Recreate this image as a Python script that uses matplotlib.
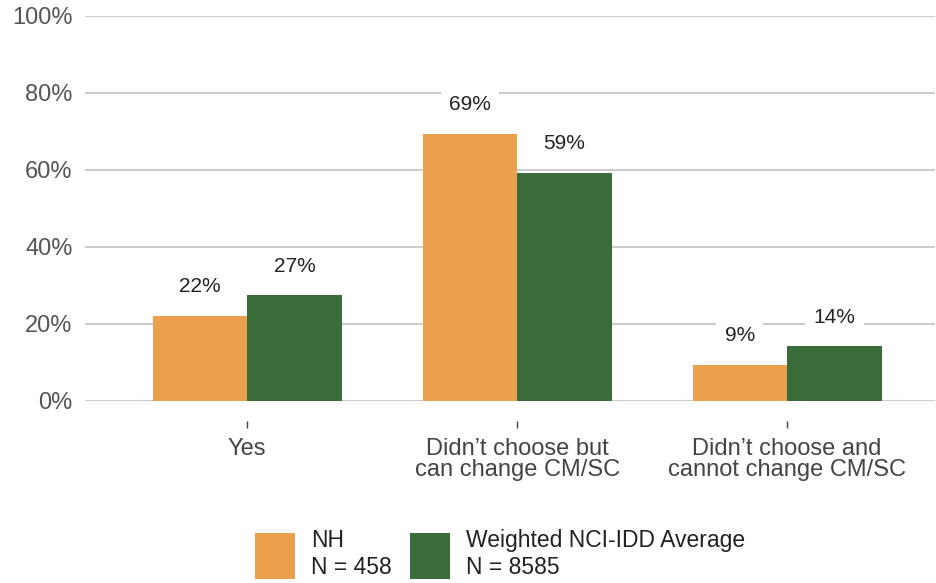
import matplotlib
matplotlib.use("Agg")
import matplotlib.pyplot as plt
import numpy as np

# data
categories = ["Yes", "Didn’t choose but\ncan change CM/SC", "Didn’t choose and\ncannot change CM/SC"]
nh_values = [22.1, 69.4, 9.4]
nci_values = [27.4, 59.3, 14.2]
nh_labels = ["22%", "69%", "9%"]
nci_labels = ["27%", "59%", "14%"]
series_names = ["NH\nN = 458", "Weighted NCI-IDD Average\nN = 8585"]
y_ticks = [0, 20, 40, 60, 80, 100]

ORANGE = "#EAA04D"
GREEN = "#3A6B3B"
GRID = "#CCCCCC"

plt.rcParams["font.family"] = ["Liberation Sans", "DejaVu Sans"]

fig = plt.figure(figsize=(9.36, 5.83), dpi=100)
ax = fig.add_axes([0.091, 0.3122, 0.908, 0.6604])

x = np.arange(len(categories))
w = 0.35
b1 = ax.bar(x - w / 2, nh_values, w, color=ORANGE, label=series_names[0], zorder=2)
b2 = ax.bar(x + w / 2, nci_values, w, color=GREEN, label=series_names[1], zorder=2)

# value labels with white boxes that break the gridlines
for bars, labels in [(b1, nh_labels), (b2, nci_labels)]:
    for rect, lab in zip(bars, labels):
        ax.annotate(lab, (rect.get_x() + rect.get_width() / 2, rect.get_height()),
                    xytext=(0, 14), textcoords="offset points",
                    ha="center", va="bottom", fontsize=15, color="#222222",
                    bbox=dict(boxstyle="square,pad=0.4", fc="white", ec="none"),
                    zorder=3)

ax.set_xlim(-0.6, 2.548)
ax.set_ylim(0, 100)
ax.set_yticks(y_ticks)
ax.set_yticklabels([f"{v}%" for v in y_ticks])
ax.set_xticks(x)
ax.set_xticklabels(categories)

ax.yaxis.grid(True, color=GRID, linewidth=1.5, zorder=0)
ax.set_axisbelow(True)
for s in ax.spines.values():
    s.set_visible(False)
ax.spines["bottom"].set_position(("outward", 14.4))

ax.tick_params(axis="y", length=0, pad=9, labelsize=17, labelcolor="#555555")
ax.tick_params(axis="x", length=5, width=1, color="#444444", pad=7,
               labelsize=17, labelcolor="#444444")
for t in ax.get_xticklabels():
    t.set_linespacing(0.95)

fig.legend(handles=[b1, b2], labels=series_names, loc="center",
           bbox_to_anchor=(500 / 936, 1 - 554 / 583), ncol=2, frameon=False,
           fontsize=16.5, handlelength=1.75, handleheight=2.7,
           handletextpad=0.7, columnspacing=0.8, labelcolor="#222222")

fig.savefig("out.png", dpi=100)
